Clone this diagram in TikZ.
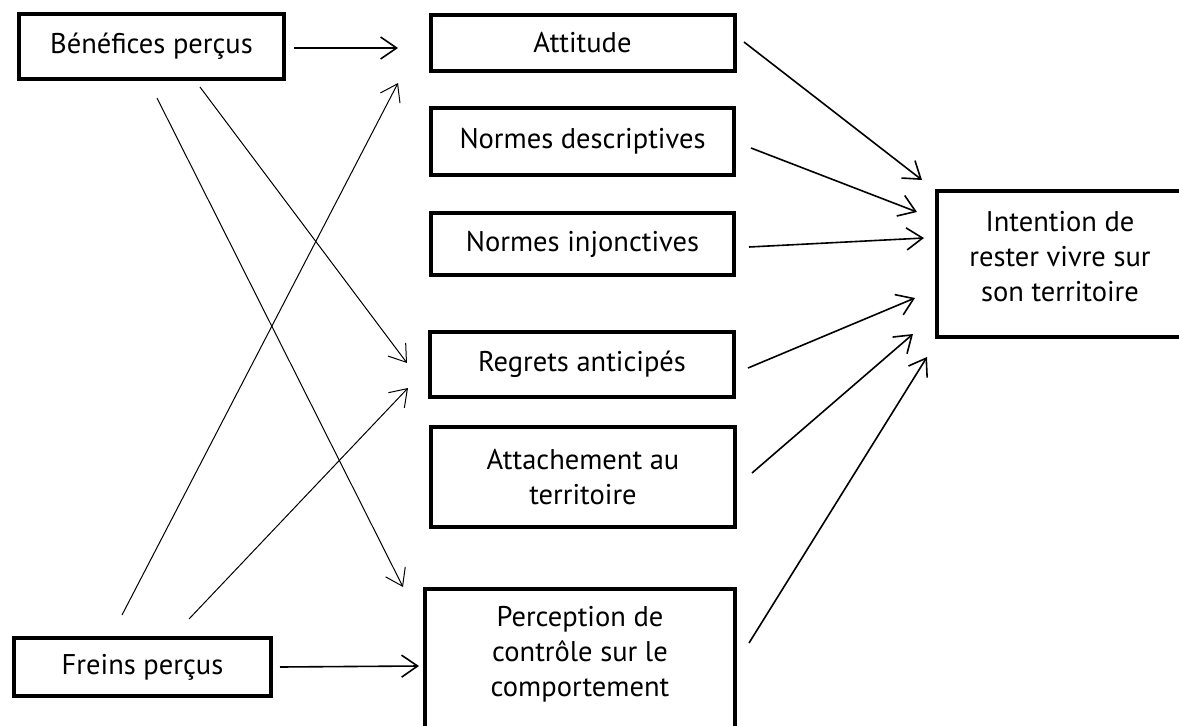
\documentclass[tikz,border=0pt]{standalone}
\usepackage{fontspec}
\setmainfont{PT Sans}
\usetikzlibrary{arrows.meta}
\begin{document}
\begin{tikzpicture}[x=1pt,y=-1pt,
  box/.style={draw=black,line width=4pt,rectangle,inner sep=0pt,align=center,
    font=\fontsize{28.5}{35}\selectfont},
  lbl/.style={inner sep=0pt,align=center,font=\fontsize{28.5}{35}\selectfont},
  thinarr/.style={line width=1pt,-{Straight Barb[length=16pt,width=22pt]}},
  arr/.style={line width=1.6pt,-{Straight Barb[length=16pt,width=22pt]}}]
\useasboundingbox (0,0) rectangle (1179,726);
\clip (0,0) rectangle (1179,726);
\fill[white] (0,0) rectangle (1179,726);
% boxes
\node[box,minimum width=265pt,minimum height=65pt] (ben) at (151.5,46.5) {Bénéfices perçus};
\node[box,minimum width=304pt,minimum height=56pt] (att) at (582.5,43) {Attitude};
\node[box,minimum width=303pt,minimum height=67pt] (nd) at (582.5,141.5) {Normes descriptives};
\node[box,minimum width=303pt,minimum height=62pt] (ni) at (582.5,244) {Normes injonctives};
\node[box,minimum width=304pt,minimum height=65pt] (reg) at (582,364.5) {Regrets anticipés};
\node[box,minimum width=304pt,minimum height=100pt] (attach) at (583,477) {Attachement au\\territoire};
\node[box,minimum width=310pt,minimum height=180pt] (perc) at (580,679) {};
\node[lbl] (perct) at (580,654) {Perception de\\contrôle sur le\\comportement};
\node[box,minimum width=257pt,minimum height=58pt] (frein) at (142.5,667) {Freins perçus};
\node[box,minimum width=290pt,minimum height=146pt] (int) at (1082,264) {};
\node[lbl] (intt) at (1060,257) {Intention de\\rester vivre sur\\son territoire};
% connector end points
\coordinate (b1) at (294,48);  \coordinate (a1) at (398,48);
\coordinate (b2) at (200,87);  \coordinate (r1) at (407,363);
\coordinate (b3) at (157,98);  \coordinate (p1) at (403,587);
\coordinate (f1) at (122,615); \coordinate (a2) at (398,83);
\coordinate (f2) at (189,619); \coordinate (r2) at (408,388);
\coordinate (f3) at (280,667); \coordinate (p2) at (419,666);
\coordinate (ao) at (744,42);  \coordinate (i1) at (922,180);
\coordinate (ndo) at (751,148); \coordinate (i2) at (917,212);
\coordinate (nio) at (749,247); \coordinate (i3) at (924,238);
\coordinate (ro) at (748,368); \coordinate (i4) at (915,298);
\coordinate (ato) at (752,473); \coordinate (i5) at (913,334);
\coordinate (po) at (749,643); \coordinate (i6) at (927,357);
% connectors
\draw[arr] (b1) -- (a1);
\draw[thinarr] (b2) -- (r1);
\draw[thinarr] (b3) -- (p1);
\draw[thinarr] (f1) -- (a2);
\draw[thinarr] (f2) -- (r2);
\draw[arr] (f3) -- (p2);
\draw[arr] (ao) -- (i1);
\draw[arr] (ndo) -- (i2);
\draw[arr] (nio) -- (i3);
\draw[arr] (ro) -- (i4);
\draw[arr] (ato) -- (i5);
\draw[arr] (po) -- (i6);
\end{tikzpicture}
\end{document}
